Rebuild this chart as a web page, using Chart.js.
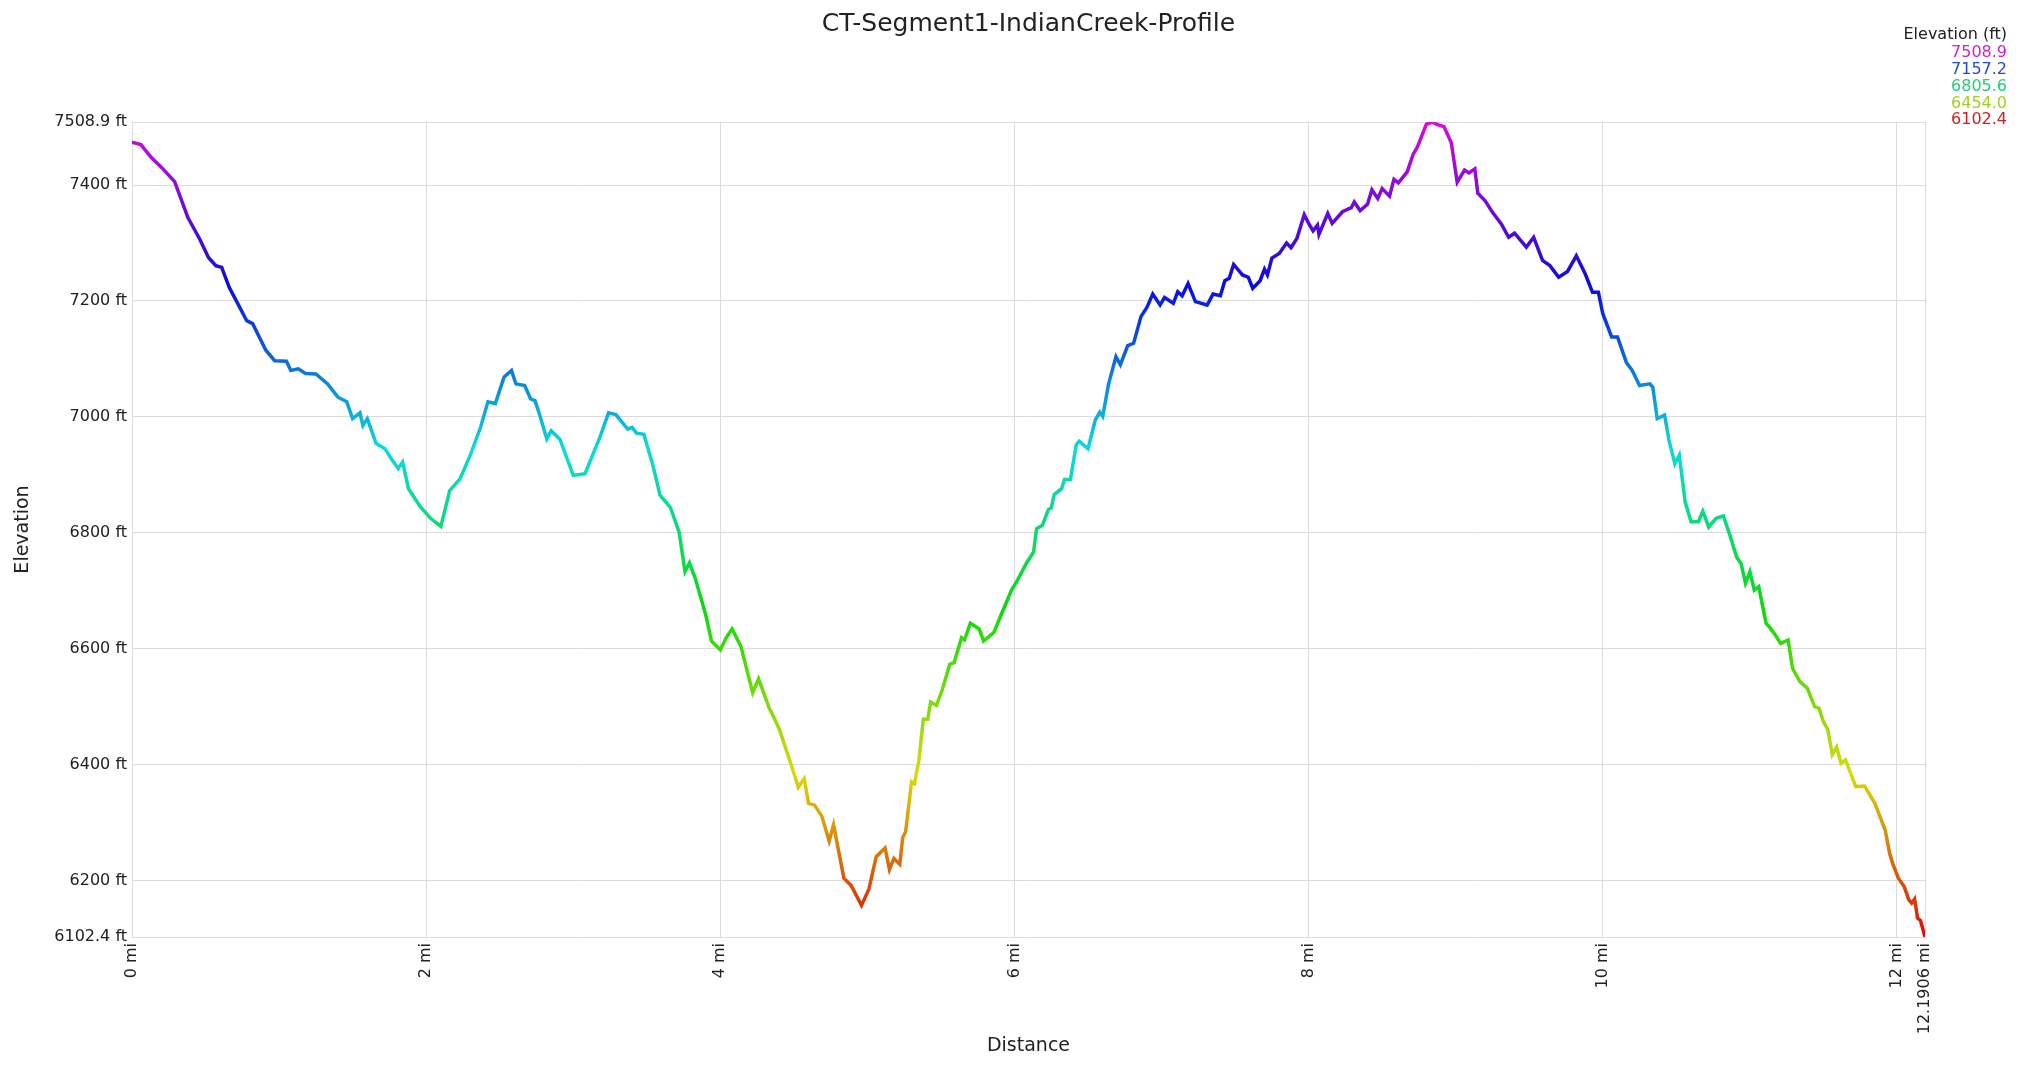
<!DOCTYPE html>
<html>
<head>
<meta charset="utf-8">
<title>CT-Segment1-IndianCreek-Profile</title>
<script src="https://cdn.jsdelivr.net/npm/chart.js@4.4.1/dist/chart.umd.min.js"></script>
<style>
  html, body { margin: 0; padding: 0; background: #fff; }
  canvas { display: block; }
</style>
</head>
<body>
<canvas id="profile" width="2022" height="1069"></canvas>
<script>
// distance along trail (mi) and elevation (ft)
const distance = [
  0.00, 0.06, 0.13, 0.21, 0.29, 0.38, 0.46, 0.52, 0.57, 0.61, 0.66, 0.72, 0.78, 0.82, 0.91, 0.97,
  1.05, 1.08, 1.13, 1.18, 1.25, 1.33, 1.40, 1.46, 1.50, 1.55, 1.57, 1.60, 1.66, 1.72, 1.77, 1.81,
  1.84, 1.88, 1.96, 2.03, 2.10, 2.16, 2.23, 2.30, 2.37, 2.42, 2.47, 2.53, 2.58, 2.61, 2.67, 2.71,
  2.74, 2.77, 2.82, 2.85, 2.91, 3.00, 3.08, 3.18, 3.24, 3.29, 3.37, 3.40, 3.43, 3.48, 3.54, 3.59,
  3.66, 3.72, 3.76, 3.79, 3.83, 3.90, 3.94, 4.00, 4.04, 4.08, 4.14, 4.22, 4.26, 4.33, 4.40, 4.48,
  4.53, 4.57, 4.60, 4.64, 4.69, 4.74, 4.77, 4.84, 4.89, 4.96, 5.01, 5.06, 5.12, 5.15, 5.18, 5.22,
  5.24, 5.26, 5.30, 5.32, 5.35, 5.38, 5.41, 5.43, 5.47, 5.51, 5.56, 5.59, 5.64, 5.66, 5.70, 5.76,
  5.79, 5.86, 5.91, 5.98, 6.02, 6.08, 6.13, 6.15, 6.19, 6.23, 6.25, 6.27, 6.32, 6.34, 6.38, 6.42,
  6.44, 6.50, 6.55, 6.58, 6.60, 6.64, 6.69, 6.72, 6.77, 6.81, 6.86, 6.90, 6.94, 6.99, 7.02, 7.08,
  7.11, 7.14, 7.18, 7.23, 7.31, 7.35, 7.40, 7.43, 7.46, 7.49, 7.55, 7.59, 7.62, 7.67, 7.70, 7.72,
  7.75, 7.80, 7.85, 7.88, 7.92, 7.97, 8.00, 8.03, 8.06, 8.07, 8.13, 8.16, 8.23, 8.29, 8.31, 8.35,
  8.40, 8.43, 8.47, 8.50, 8.55, 8.58, 8.61, 8.67, 8.71, 8.74, 8.80, 8.84, 8.87, 8.92, 8.97, 9.01,
  9.06, 9.09, 9.13, 9.15, 9.20, 9.25, 9.31, 9.36, 9.40, 9.48, 9.53, 9.59, 9.64, 9.70, 9.76, 9.82,
  9.88, 9.93, 9.97, 10.00, 10.06, 10.10, 10.16, 10.20, 10.25, 10.32, 10.34, 10.37, 10.42, 10.45, 10.49, 10.52,
  10.56, 10.60, 10.65, 10.68, 10.72, 10.77, 10.82, 10.86, 10.91, 10.94, 10.97, 11.00, 11.03, 11.06, 11.11, 11.14,
  11.18, 11.21, 11.26, 11.29, 11.34, 11.39, 11.44, 11.47, 11.50, 11.53, 11.56, 11.59, 11.62, 11.65, 11.72, 11.78,
  11.85, 11.92, 11.95, 11.97, 12.01, 12.05, 12.08, 12.10, 12.12, 12.14, 12.16, 12.1906
];
const elevation = [
  7474, 7470, 7448, 7428, 7406, 7344, 7307, 7275, 7261, 7258, 7224, 7195, 7166, 7161, 7115, 7097,
  7096, 7080, 7083, 7075, 7074, 7057, 7034, 7026, 6997, 7007, 6985, 6997, 6954, 6945, 6925, 6911,
  6922, 6876, 6845, 6825, 6811, 6873, 6893, 6934, 6982, 7026, 7023, 7069, 7080, 7057, 7054, 7031,
  7028, 7005, 6962, 6976, 6961, 6899, 6902, 6964, 7007, 7004, 6979, 6982, 6972, 6970, 6918, 6865,
  6844, 6801, 6733, 6748, 6721, 6659, 6613, 6598, 6619, 6634, 6604, 6524, 6548, 6499, 6462, 6401,
  6361, 6376, 6333, 6330, 6311, 6268, 6296, 6204, 6191, 6157, 6185, 6241, 6256, 6219, 6238, 6228,
  6274, 6284, 6370, 6367, 6407, 6478, 6478, 6508, 6502, 6530, 6573, 6576, 6619, 6615, 6644, 6634,
  6613, 6628, 6659, 6701, 6718, 6747, 6767, 6807, 6813, 6840, 6843, 6866, 6876, 6892, 6892, 6952,
  6958, 6945, 6995, 7008, 7001, 7057, 7104, 7090, 7123, 7127, 7173, 7189, 7212, 7193, 7206, 7196,
  7216, 7209, 7230, 7199, 7193, 7212, 7209, 7235, 7239, 7263, 7245, 7241, 7222, 7235, 7255, 7245,
  7274, 7282, 7300, 7292, 7308, 7349, 7334, 7321, 7331, 7315, 7351, 7334, 7354, 7361, 7371, 7356,
  7367, 7392, 7377, 7394, 7381, 7410, 7404, 7423, 7453, 7466, 7505, 7508.9, 7505, 7501, 7473, 7405,
  7426, 7421, 7428, 7386, 7373, 7353, 7333, 7310, 7317, 7293, 7310, 7270, 7261, 7241, 7251, 7278,
  7247, 7215, 7215, 7178, 7138, 7138, 7094, 7080, 7054, 7057, 7051, 6997, 7003, 6960, 6919, 6934,
  6853, 6819, 6819, 6837, 6810, 6825, 6829, 6799, 6758, 6747, 6713, 6733, 6701, 6707, 6644, 6635,
  6621, 6609, 6615, 6566, 6543, 6532, 6500, 6497, 6474, 6460, 6417, 6430, 6402, 6408, 6362, 6363,
  6333, 6287, 6247, 6230, 6204, 6189, 6167, 6161, 6168, 6135, 6131, 6102.4
];

const yTicks = [6102.4, 6200, 6400, 6600, 6800, 7000, 7200, 7400, 7508.9];
const xTicks = [0, 2, 4, 6, 8, 10, 12, 12.1906];
const legendValues = [7508.9, 7157.2, 6805.6, 6454.0, 6102.4];

const minElev = 6102.4;
const maxElev = 7508.9;
const FONT = '"DejaVu Sans", Verdana, sans-serif';

// hue runs red (low) -> magenta (high)
function hueFor(v) {
  return 300 * (v - minElev) / (maxElev - minElev);
}

function lineGradient(ctx) {
  const chart = ctx.chart;
  const area = chart.chartArea;
  if (!area) return 'blue';
  const g = chart.ctx.createLinearGradient(0, area.bottom, 0, area.top);
  for (let i = 0; i <= 20; i++) {
    const t = i / 20;
    g.addColorStop(t, 'hsl(' + (300 * t) + ', 90%, 45%)');
  }
  return g;
}

// title over the plot and the elevation key in the corner
const decor = {
  id: 'decor',
  afterDraw(chart) {
    const c = chart.ctx;
    const a = chart.chartArea;
    c.save();
    c.fillStyle = '#222';
    c.font = '25px ' + FONT;
    c.textAlign = 'center';
    c.textBaseline = 'middle';
    c.fillText('CT-Segment1-IndianCreek-Profile', (a.left + a.right) / 2, 24);

    c.font = '16px ' + FONT;
    c.textAlign = 'right';
    c.fillText('Elevation (ft)', 2007, 35);
    legendValues.forEach((v, i) => {
      c.fillStyle = 'hsl(' + hueFor(v) + ', 72%, 47%)';
      c.fillText(v.toFixed(1), 2007, 53 + i * 16.8);
    });
    c.restore();
  }
};

const points = distance.map((d, i) => ({ x: d, y: elevation[i] }));

new Chart(document.getElementById('profile'), {
  type: 'line',
  data: {
    datasets: [{
      label: 'Elevation',
      data: points,
      borderColor: lineGradient,
      borderWidth: 3.5,
      pointRadius: 0,
      tension: 0,
      fill: false
    }]
  },
  options: {
    responsive: false,
    animation: false,
    layout: { padding: { left: 12, right: 97, top: 122, bottom: 8 } },
    plugins: {
      legend: { display: false },
      tooltip: { enabled: false }
    },
    scales: {
      x: {
        type: 'linear',
        min: 0,
        max: 12.1906,
        afterBuildTicks: s => { s.ticks = xTicks.map(v => ({ value: v })); },
        afterFit: s => { s.height = 124; },
        grid: { color: '#dcdcdc', drawTicks: false },
        border: { display: false },
        ticks: {
          autoSkip: false,
          minRotation: 90,
          maxRotation: 90,
          padding: 6,
          color: '#222',
          font: { family: FONT, size: 16 },
          callback: v => v + ' mi'
        },
        title: {
          display: true,
          text: 'Distance',
          color: '#222',
          font: { family: FONT, size: 19 },
          padding: { top: 4, bottom: 4 }
        }
      },
      y: {
        min: minElev,
        max: maxElev,
        afterBuildTicks: s => { s.ticks = yTicks.map(v => ({ value: v })); },
        afterFit: s => { s.width = 120; },
        grid: { color: '#dcdcdc', drawTicks: false },
        border: { display: false },
        ticks: {
          padding: 5,
          color: '#222',
          font: { family: FONT, size: 16 },
          callback: v => (Number.isInteger(v) ? v : v.toFixed(1)) + ' ft'
        },
        title: {
          display: true,
          text: 'Elevation',
          color: '#222',
          font: { family: FONT, size: 19 },
          padding: { top: 0, bottom: 0 }
        }
      }
    }
  },
  plugins: [decor]
});
</script>
</body>
</html>
